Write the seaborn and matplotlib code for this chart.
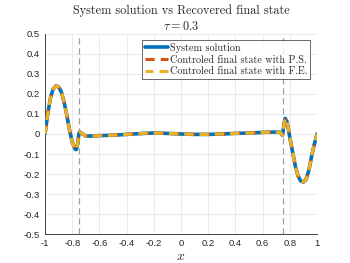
"""System solution vs recovered final state."""

import matplotlib

matplotlib.use("Agg")
import matplotlib.pyplot as plt
import pandas as pd
import seaborn as sns

x = [-1.0, -0.98, -0.96, -0.94, -0.92, -0.90, -0.88, -0.86, -0.84, -0.82,
     -0.80, -0.78, -0.77, -0.76, -0.75, -0.745, -0.73, -0.70, -0.65, -0.6,
     -0.5, -0.4, -0.3, -0.2, -0.1, 0.0, 0.1, 0.2, 0.3, 0.4,
     0.5, 0.6, 0.7, 0.73, 0.745, 0.755, 0.765, 0.78, 0.80, 0.82,
     0.84, 0.86, 0.88, 0.90, 0.92, 0.94, 0.96, 0.98, 1.0]
system_solution = [0.0, 0.10, 0.18, 0.225, 0.24, 0.235, 0.21, 0.16, 0.095, 0.02,
                   -0.04, -0.075, -0.078, -0.05, 0.005, 0.012, 0.002, -0.01, -0.01, -0.008,
                   -0.006, -0.002, 0.002, 0.005, 0.003, 0.0, -0.002, -0.002, 0.0, 0.003,
                   0.005, 0.008, 0.01, 0.008, -0.008, 0.04, 0.078, 0.06, -0.02, -0.09,
                   -0.16, -0.21, -0.235, -0.24, -0.225, -0.18, -0.11, -0.05, 0.0]
final_ps = list(system_solution)
final_fe = list(system_solution)
labels = ["System solution", "Controled final state with P.S.",
          "Controled final state with F.E."]
control_edges = [-0.75, 0.75]

sns.set_style("white")
plt.rcParams["font.family"] = ["Liberation Sans", "DejaVu Sans"]
plt.rcParams["mathtext.fontset"] = "cm"

fig = plt.figure(figsize=(3.5, 2.63), dpi=100)
ax = fig.add_axes([0.1286, 0.110, 0.7774, 0.761])

for xe in control_edges:
    ax.axvline(xe, color="#a0a0a0", lw=0.9, ls=(0, (5, 3)), zorder=1)

df = pd.DataFrame({"x": x, "sys": system_solution, "ps": final_ps, "fe": final_fe})
sns.lineplot(data=df, x="x", y="sys", ax=ax, color="#0072BD", lw=2.6,
             label=labels[0], zorder=3)
sns.lineplot(data=df, x="x", y="ps", ax=ax, color="#D95319", lw=2.2,
             label=labels[1], zorder=4, ls=(0, (3, 2)))
sns.lineplot(data=df, x="x", y="fe", ax=ax, color="#EDB120", lw=2.2,
             label=labels[2], zorder=5, ls=(0.4, (3, 2)))

ax.set_xlim(-1, 1)
ax.set_ylim(-0.5, 0.5)
xt = [-1, -0.8, -0.6, -0.4, -0.2, 0, 0.2, 0.4, 0.6, 0.8, 1]
yt = [-0.5, -0.4, -0.3, -0.2, -0.1, 0, 0.1, 0.2, 0.3, 0.4, 0.5]
ax.set_xticks(xt)
ax.set_xticklabels([f"{v:g}" for v in xt])
ax.set_yticks(yt)
ax.set_yticklabels([f"{v:g}" for v in yt])
ax.tick_params(labelsize=6.8, colors="#262626", direction="in", length=3, width=0.6)
ax.grid(True, color="#e6e6e6", lw=0.6)
for s in ["top", "right"]:
    ax.spines[s].set_visible(False)
for s in ["left", "bottom"]:
    ax.spines[s].set_color("#262626")
    ax.spines[s].set_linewidth(0.6)

ax.set_xlabel("$x$", fontsize=10, labelpad=1)
ax.set_ylabel("")
ax.set_title("System solution vs Recovered final state\n$\\tau=0.3$",
             fontsize=8.8, family="cmr10", pad=3, linespacing=1.3)

leg = ax.legend(loc="upper right", bbox_to_anchor=(0.975, 0.97),
                prop={"family": "cmr10", "size": 7.3}, frameon=True,
                fancybox=False, borderpad=0.3, labelspacing=0.2,
                handlelength=2.2, handletextpad=0.2, borderaxespad=0)
leg.get_frame().set_edgecolor("#262626")
leg.get_frame().set_linewidth(0.6)

fig.savefig("out.png", dpi=100)
